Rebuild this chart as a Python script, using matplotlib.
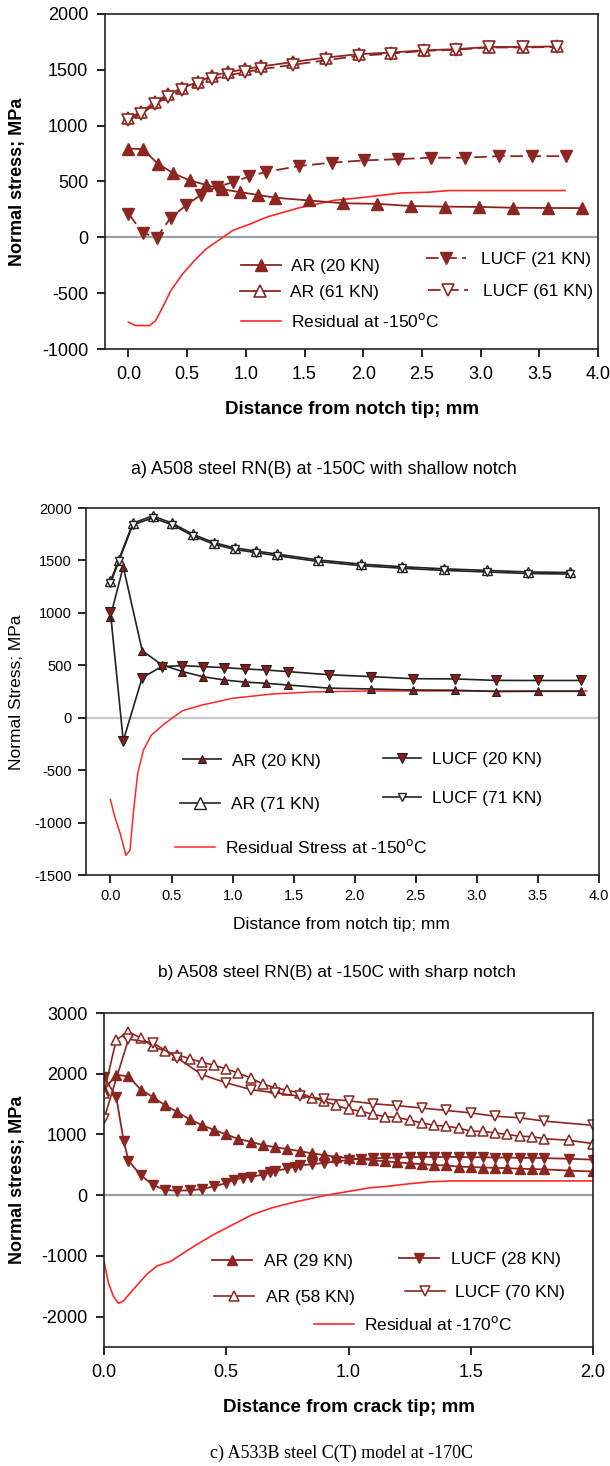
import matplotlib
matplotlib.use("Agg")
import matplotlib.pyplot as plt
from matplotlib.lines import Line2D

plt.rcParams['font.family'] = ['Liberation Sans', 'DejaVu Sans']
plt.rcParams['axes.unicode_minus'] = False

# ---------------- panel a : shallow notch ----------------
a_x_ar20 = [0, 0.12, 0.25, 0.38, 0.52, 0.66, 0.80, 0.95, 1.10, 1.25, 1.54, 1.83, 2.12, 2.41, 2.70, 2.99, 3.28, 3.57, 3.86]
a_ar20 = [795, 790, 660, 575, 510, 470, 430, 405, 380, 355, 330, 305, 300, 280, 275, 272, 265, 263, 262]

a_x_61 = [0, 0.11, 0.23, 0.34, 0.46, 0.59, 0.71, 0.85, 0.99, 1.13, 1.40, 1.68, 1.96, 2.24, 2.52, 2.79, 3.07, 3.36, 3.65]
a_ar61 = [1065, 1125, 1215, 1280, 1340, 1390, 1445, 1480, 1505, 1530, 1570, 1610, 1640, 1655, 1675, 1685, 1705, 1705, 1710]
a_lucf61 = [1050, 1105, 1195, 1260, 1320, 1370, 1415, 1450, 1480, 1505, 1545, 1585, 1625, 1645, 1670, 1680, 1700, 1700, 1705]

a_x_lucf21 = [0, 0.12, 0.24, 0.36, 0.49, 0.62, 0.75, 0.89, 1.03, 1.17, 1.45, 1.73, 2.01, 2.30, 2.58, 2.87, 3.16, 3.44, 3.73]
a_lucf21 = [212, 42, -3, 176, 286, 382, 450, 494, 546, 585, 638, 669, 689, 700, 713, 713, 727, 727, 727]

a_x_res = [0, 0.06, 0.18, 0.23, 0.29, 0.36, 0.46, 0.56, 0.66, 0.80, 0.89, 1.03, 1.18, 1.46, 1.75, 2.03, 2.32, 2.56, 2.73, 3.72]
a_res = [-760, -790, -790, -748, -629, -479, -329, -210, -105, -3, 63, 116, 182, 266, 331, 361, 397, 404, 419, 419]

# ---------------- panel b : sharp notch ----------------
b_x_71 = [0, 0.068, 0.183, 0.347, 0.506, 0.674, 0.846, 1.016, 1.188, 1.366, 1.70, 2.05, 2.39, 2.73, 3.08, 3.42, 3.76]
b_ar71 = [1300, 1505, 1855, 1925, 1855, 1750, 1670, 1620, 1590, 1560, 1505, 1465, 1440, 1420, 1405, 1390, 1385]
b_lucf71 = [1280, 1490, 1840, 1905, 1840, 1735, 1655, 1605, 1575, 1545, 1490, 1450, 1425, 1405, 1390, 1375, 1370]

b_x_20 = [0, 0.105, 0.26, 0.42, 0.59, 0.755, 0.93, 1.10, 1.275, 1.45, 1.79, 2.135, 2.48, 2.82, 3.155, 3.50, 3.85]
b_ar20 = [965, 1440, 640, 505, 440, 392, 360, 340, 328, 312, 282, 274, 264, 262, 250, 252, 252]
b_lucf20 = [1005, -220, 382, 487, 497, 487, 478, 465, 455, 440, 410, 392, 372, 370, 356, 355, 355]

b_x_res = [0, 0.032, 0.08, 0.127, 0.16, 0.19, 0.223, 0.27, 0.335, 0.43, 0.51, 0.59, 0.75, 1.0, 1.32, 1.64, 2.12, 2.6, 3.9]
b_res = [-780, -930, -1105, -1312, -1264, -882, -532, -309, -166, -70, 0, 67, 121, 185, 226, 245, 255, 255, 255]

# ---------------- panel c : C(T) model ----------------
c_x_ar = [0, 0.05, 0.10, 0.15, 0.20, 0.25, 0.30, 0.35, 0.40, 0.45, 0.50, 0.55, 0.60, 0.65, 0.70, 0.75, 0.80,
          0.85, 0.90, 0.95, 1.00, 1.05, 1.10, 1.15, 1.20, 1.25, 1.30, 1.35, 1.40, 1.45, 1.50, 1.55, 1.60,
          1.65, 1.70, 1.75, 1.80, 1.90, 2.00]
c_ar29 = [1730, 1985, 1955, 1740, 1615, 1480, 1370, 1250, 1155, 1075, 1000, 925, 880, 825, 790, 760, 725,
          690, 660, 630, 610, 595, 575, 560, 540, 525, 510, 495, 490, 470, 465, 455, 450,
          445, 435, 430, 425, 405, 390]
c_ar58 = [1690, 2560, 2690, 2590, 2450, 2370, 2310, 2250, 2190, 2140, 2080, 2010, 1930, 1830, 1770, 1725, 1690,
          1605, 1550, 1480, 1415, 1385, 1330, 1295, 1280, 1235, 1190, 1150, 1135, 1105, 1055, 1050, 1025,
          1000, 970, 965, 930, 905, 850]

c_x_lucf28 = [0, 0.05, 0.08, 0.10, 0.15, 0.20, 0.25, 0.30, 0.35, 0.40, 0.45, 0.50, 0.53, 0.57, 0.60, 0.65,
              0.68, 0.70, 0.75, 0.78, 0.80, 0.85, 0.90, 0.95, 1.00, 1.05, 1.10, 1.15, 1.20, 1.25, 1.30,
              1.35, 1.40, 1.45, 1.50, 1.55, 1.60, 1.65, 1.70, 1.75, 1.80, 1.90, 2.00]
c_lucf28 = [1950, 1620, 900, 570, 330, 170, 85, 75, 80, 100, 145, 200, 250, 290, 300, 340,
            380, 395, 440, 470, 490, 510, 530, 555, 580, 600, 605, 615, 620, 625, 630,
            630, 630, 630, 625, 625, 620, 620, 615, 615, 610, 600, 585]

c_x_lucf70 = [0, 0.10, 0.20, 0.30, 0.40, 0.50, 0.60, 0.70, 0.80, 0.90, 1.00, 1.10, 1.20, 1.30, 1.40, 1.50,
              1.60, 1.70, 1.80, 2.00]
c_lucf70 = [1260, 2570, 2510, 2260, 1985, 1850, 1740, 1685, 1630, 1585, 1555, 1505, 1475, 1435, 1395, 1355,
            1300, 1275, 1220, 1150]

c_x_res = [0, 0.018, 0.038, 0.059, 0.079, 0.12, 0.175, 0.216, 0.274, 0.369, 0.449, 0.528, 0.608, 0.687,
           0.767, 0.846, 0.91, 1.006, 1.085, 1.165, 1.244, 1.324, 1.427, 2.0]
c_res = [-1085, -1441, -1661, -1781, -1743, -1551, -1304, -1168, -1086, -839, -647, -483, -318, -208,
         -126, -55, 0, 66, 121, 148, 186, 219, 235, 235]

DARK = '#8B2621'
RED = '#FF2828'
W, H = 610, 1466

fig = plt.figure(figsize=(W / 100, H / 100), dpi=100)


def px_axes(l, r, t, b):
    return fig.add_axes([l / W, 1 - b / H, (r - l) / W, (b - t) / H])


def entry(line, label, x, y, size=12.5, hl=2.3, pad=0.6):
    fig.legend(handles=[line], labels=[label], loc='center left',
               bbox_to_anchor=(x / W, 1 - y / H), frameon=False, borderpad=0,
               borderaxespad=0, handlelength=hl, handletextpad=pad, fontsize=size)


def style(ax, size, tlen, pad):
    for s in ax.spines.values():
        s.set_color('#222222')
        s.set_linewidth(1.2)
    ax.tick_params(direction='out', length=tlen, width=1.2, labelsize=size, pad=pad,
                   top=False, right=False)


# ---------- a ----------
ax = px_axes(105, 598, 14, 349)
ax.axhline(0, color='#9aa0a6', lw=1.6, zorder=1)
ax.plot(a_x_res, a_res, color=RED, lw=1.2, zorder=2)
ax.plot(a_x_ar20, a_ar20, color=DARK, lw=1.3, marker='^', ms=8, mfc=DARK, mec=DARK)
ax.plot(a_x_61, a_ar61, color=DARK, lw=1.3, marker='^', ms=8, mfc='white', mec=DARK, mew=1.2)
ax.plot(a_x_lucf21, a_lucf21, color=DARK, lw=1.3, dashes=(7, 3), marker='v', ms=8, mfc=DARK, mec=DARK)
ax.plot(a_x_61, a_lucf61, color=DARK, lw=1.3, dashes=(7, 3), marker='v', ms=8, mfc='white', mec=DARK, mew=1.2)
ax.set_xlim(-0.2, 4.0)
ax.set_ylim(-1000, 2000)
ax.set_xticks([0, 0.5, 1, 1.5, 2, 2.5, 3, 3.5, 4])
ax.set_xticklabels(['%.1f' % v for v in ax.get_xticks()])
ax.set_yticks(range(-1000, 2001, 500))
style(ax, 13, 6, 6)

entry(Line2D([], [], color=DARK, lw=1.3, marker='^', ms=8, mfc=DARK, mec=DARK), 'AR (20 KN)', 241, 266)
entry(Line2D([], [], color=DARK, lw=1.3, marker='^', ms=8, mfc='white', mec=DARK, mew=1.2), 'AR (61 KN)', 240, 292)
entry(Line2D([], [], color=RED, lw=1.2), 'Residual at -150$^{\\mathrm{o}}$C', 241, 321)
entry(Line2D([], [], color=DARK, lw=1.3, dashes=(7, 3), marker='v', ms=8, mfc=DARK, mec=DARK), 'LUCF (21 KN)', 426, 259, pad=0.85)
entry(Line2D([], [], color=DARK, lw=1.3, dashes=(7, 3), marker='v', ms=8, mfc='white', mec=DARK, mew=1.2), 'LUCF (61 KN)', 428, 291, pad=0.85)

fig.text(17.5 / W, 1 - 182 / H, 'Normal stress; MPa', rotation=90, ha='center', va='center',
         fontsize=13, fontweight='bold')
fig.text(352 / W, 1 - 410 / H, 'Distance from notch tip; mm', ha='center', va='center',
         fontsize=13.5, fontweight='bold')
fig.text(324 / W, 1 - 470 / H, 'a) A508 steel RN(B) at -150C with shallow notch', ha='center',
         va='center', fontsize=13)

# ---------- b ----------
ax = px_axes(86, 599, 508, 875)
ax.axhline(0, color='#c4c8cc', lw=1.6, zorder=1)
ax.plot(b_x_res, b_res, color=RED, lw=1.1, zorder=2)
ax.plot(b_x_71, b_ar71, color='#222222', lw=1.2, marker='^', ms=7, mfc='white', mec='#222222', mew=1.0)
ax.plot(b_x_71, b_lucf71, color='#222222', lw=1.2, marker='v', ms=5.5, mfc='white', mec='#222222', mew=1.0)
ax.plot(b_x_20, b_ar20, color='#222222', lw=1.2, marker='^', ms=6, mfc='#8B1A1A', mec='#222222', mew=0.8)
ax.plot(b_x_20, b_lucf20, color='#222222', lw=1.2, marker='v', ms=6.5, mfc='#8B1A1A', mec='#222222', mew=0.8)
ax.set_xlim(-0.2, 4.0)
ax.set_ylim(-1500, 2000)
ax.set_xticks([0, 0.5, 1, 1.5, 2, 2.5, 3, 3.5, 4])
ax.set_xticklabels(['%.1f' % v for v in ax.get_xticks()])
ax.set_yticks(range(-1500, 2001, 500))
style(ax, 10.5, 6, 4)

entry(Line2D([], [], color='#222222', lw=1.2, marker='^', ms=6, mfc='#8B1A1A', mec='#222222', mew=0.8), 'AR (20 KN)', 183, 761, hl=2.2, pad=0.65)
entry(Line2D([], [], color='#222222', lw=1.2, marker='^', ms=8, mfc='white', mec='#222222', mew=1.0), 'AR (71 KN)', 180, 804, hl=2.3, pad=0.65)
entry(Line2D([], [], color=RED, lw=1.1), 'Residual Stress at -150$^{\\mathrm{o}}$C', 175, 847, hl=2.3, pad=0.6)
entry(Line2D([], [], color='#222222', lw=1.2, marker='v', ms=6.5, mfc='#8B1A1A', mec='#222222', mew=0.8), 'LUCF (20 KN)', 383, 759, hl=2.2, pad=0.6)
entry(Line2D([], [], color='#222222', lw=1.2, marker='v', ms=5.5, mfc='white', mec='#222222', mew=1.0), 'LUCF (71 KN)', 383, 798, hl=2.2, pad=0.6)

fig.text(16.3 / W, 1 - 692 / H, 'Normal Stress; MPa', rotation=90, ha='center', va='center', fontsize=12.5)
fig.text(341 / W, 1 - 925 / H, 'Distance from notch tip; mm', ha='center', va='center', fontsize=12.5)
fig.text(337 / W, 1 - 973 / H, 'b) A508 steel RN(B) at -150C with sharp notch', ha='center',
         va='center', fontsize=12.5)

# ---------- c ----------
ax = px_axes(104, 593, 1013, 1347)
ax.axhline(0, color='#9aa0a6', lw=1.6, zorder=1)
ax.plot(c_x_res, c_res, color=RED, lw=1.2, zorder=2)
ax.plot(c_x_ar, c_ar29, color=DARK, lw=1.3, marker='^', ms=7.5, mfc=DARK, mec=DARK)
ax.plot(c_x_lucf28, c_lucf28, color=DARK, lw=1.3, marker='v', ms=7.5, mfc=DARK, mec=DARK)
ax.plot(c_x_ar, c_ar58, color=DARK, lw=1.2, marker='^', ms=7, mfc='white', mec=DARK, mew=1.1)
ax.plot(c_x_lucf70, c_lucf70, color=DARK, lw=1.2, marker='v', ms=7, mfc='white', mec=DARK, mew=1.1)
ax.set_xlim(0, 2.0)
ax.set_ylim(-2500, 3000)
ax.set_xticks([0, 0.5, 1, 1.5, 2])
ax.set_xticklabels(['%.1f' % v for v in ax.get_xticks()])
ax.set_yticks(range(-2000, 3001, 1000))
style(ax, 13, 6, 6)

entry(Line2D([], [], color=DARK, lw=1.3, marker='^', ms=7.5, mfc=DARK, mec=DARK), 'AR (29 KN)', 212, 1261, pad=0.7)
entry(Line2D([], [], color=DARK, lw=1.2, marker='^', ms=7, mfc='white', mec=DARK, mew=1.1), 'AR (58 KN)', 214, 1297, pad=0.7)
entry(Line2D([], [], color=RED, lw=1.2), 'Residual at -170$^{\\mathrm{o}}$C', 314, 1324, pad=0.6)
entry(Line2D([], [], color=DARK, lw=1.3, marker='v', ms=7.5, mfc=DARK, mec=DARK), 'LUCF (28 KN)', 399, 1259, pad=0.7)
entry(Line2D([], [], color=DARK, lw=1.2, marker='v', ms=7, mfc='white', mec=DARK, mew=1.1), 'LUCF (70 KN)', 405, 1292, pad=0.6)

fig.text(17.5 / W, 1 - 1180 / H, 'Normal stress; MPa', rotation=90, ha='center', va='center',
         fontsize=13, fontweight='bold')
fig.text(349 / W, 1 - 1408 / H, 'Distance from crack tip; mm', ha='center', va='center',
         fontsize=13.5, fontweight='bold')
fig.text(342 / W, 1 - 1453 / H, 'c) A533B steel C(T) model at -170C', ha='center', va='center',
         fontsize=13, family=['Liberation Serif', 'DejaVu Serif'])

fig.savefig('out.png', dpi=100)
